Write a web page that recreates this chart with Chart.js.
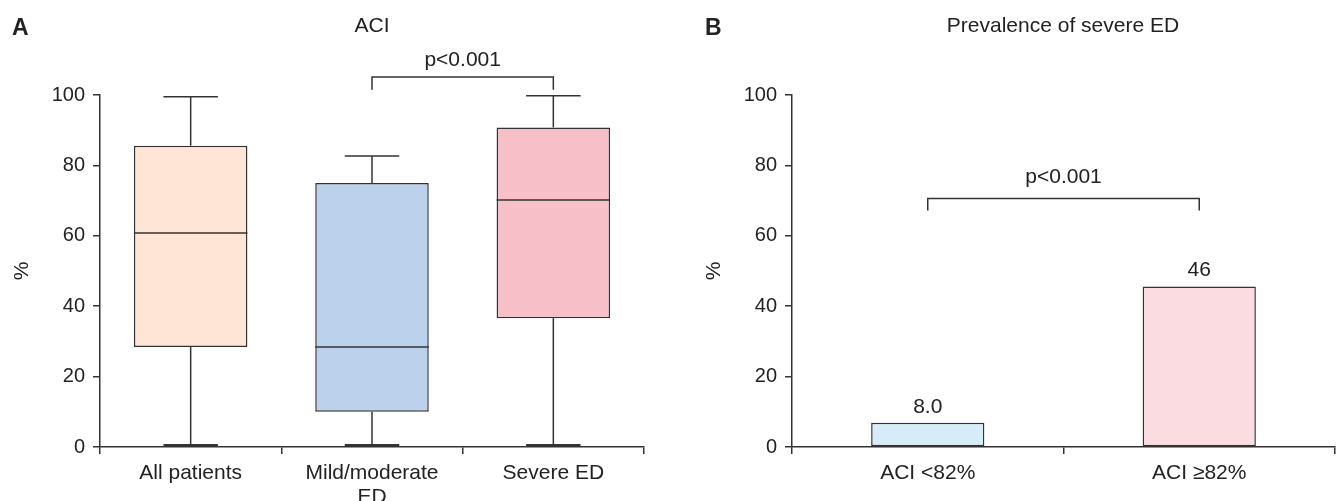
<!DOCTYPE html>
<html>
<head>
<meta charset="utf-8">
<script src="https://cdn.jsdelivr.net/npm/chart.js@4.4.1/dist/chart.umd.min.js"></script>
<style>
  body { margin: 0; background: #fff; width: 1338px; height: 501px; position: relative; overflow: hidden;
         font-family: "Liberation Sans", Arial, sans-serif; color: #222; }
  .panel { position: absolute; top: 0; height: 501px; }
  .letter { position: absolute; top: 15px; font-size: 23px; font-weight: bold; line-height: 24px; }
  .title { position: absolute; top: 13px; width: 400px; text-align: center; font-size: 21px; line-height: 24px; }
</style>
</head>
<body>
<div class="panel" style="left:0;width:680px"><canvas id="boxChart"></canvas></div>
<div class="panel" style="left:692px;width:646px"><canvas id="prevChart"></canvas></div>
<div class="letter" style="left:12px">A</div>
<div class="title" style="left:172px">ACI</div>
<div class="letter" style="left:705px">B</div>
<div class="title" style="left:863px">Prevalence of severe ED</div>

<script>
// ---- panel A: ACI box plot ----
const boxCategories = ["All patients", ["Mild/moderate", "ED"], "Severe ED"];
const boxMin = [0.5, 0.5, 0.5];
const boxQ1 = [28.4, 10.0, 36.6];
const boxMedian = [60.8, 28.4, 70.2];
const boxQ3 = [85.6, 75.0, 90.8];
const boxMax = [99.5, 82.7, 99.8];
const boxColors = ["#fee5d6", "#bbd1ec", "#f7bfc7"];
const bracketA = [1, 2, 105.1, 101.5]; // from, to, top, leg end

// ---- panel B: prevalence of severe ED ----
const prevCategories = ["ACI <82%", "ACI \u226582%"];
const prevValues = [6.9, 45.6];
const prevLabels = ["8.0", "46"];
const prevColors = ["#d6ecf9", "#fbdce0"];
const bracketB = [0, 1, 70.6, 67.2];

const yTicks = [0, 20, 40, 60, 80, 100];

const TEXT = "#222";
const AXIS = "#333";
const FAMILY = "'Liberation Sans', Arial, sans-serif";
const TICK_FONT = { family: FAMILY, size: 20 };
const LABEL_FONT = { family: FAMILY, size: 21 };

const boxWhiskers = {
  id: "boxWhiskers",
  afterDatasetsDraw(chart) {
    const { ctx, scales: { y } } = chart;
    const bars = chart.getDatasetMeta(0).data;
    const line = (x1, y1, x2, y2) => {
      ctx.beginPath();
      ctx.moveTo(x1, y1);
      ctx.lineTo(x2, y2);
      ctx.stroke();
    };
    ctx.save();
    ctx.strokeStyle = AXIS;
    ctx.lineWidth = 1.5;
    bars.forEach((bar, i) => {
      const half = bar.width / 2;
      const cap = bar.width * 0.24;
      const yMed = y.getPixelForValue(boxMedian[i]);
      const yQ1 = y.getPixelForValue(boxQ1[i]);
      const yQ3 = y.getPixelForValue(boxQ3[i]);
      const yMax = y.getPixelForValue(boxMax[i]);
      const yMin = y.getPixelForValue(boxMin[i]);
      line(bar.x - half, yMed, bar.x + half, yMed);
      line(bar.x, yQ3, bar.x, yMax);
      line(bar.x - cap, yMax, bar.x + cap, yMax);
      line(bar.x, yQ1, bar.x, yMin);
      ctx.lineWidth = 2.5;
      line(bar.x - cap, yMin, bar.x + cap, yMin);
      ctx.lineWidth = 1.5;
    });
    ctx.restore();
  },
};

const brackets = {
  id: "brackets",
  afterDraw(chart, args, opts) {
    const { ctx, scales: { x, y } } = chart;
    const [from, to, top, leg] = opts.bracket;
    const x1 = x.getPixelForValue(from);
    const x2 = x.getPixelForValue(to);
    const yTop = y.getPixelForValue(top);
    const yLeg = y.getPixelForValue(leg);
    ctx.save();
    ctx.strokeStyle = AXIS;
    ctx.lineWidth = 1.5;
    ctx.beginPath();
    ctx.moveTo(x1, yLeg);
    ctx.lineTo(x1, yTop);
    ctx.lineTo(x2, yTop);
    ctx.lineTo(x2, yLeg);
    ctx.stroke();
    ctx.fillStyle = TEXT;
    ctx.font = `${LABEL_FONT.size}px ${FAMILY}`;
    ctx.textAlign = "center";
    ctx.textBaseline = "alphabetic";
    ctx.fillText(opts.text, (x1 + x2) / 2, yTop - opts.gap);
    if (opts.valueLabels) {
      chart.getDatasetMeta(0).data.forEach((bar, i) => {
        ctx.fillText(opts.valueLabels[i], bar.x, bar.y - 10);
      });
    }
    ctx.restore();
  },
};

function yAxis(titlePad) {
  return {
    min: 0,
    max: 100,
    afterBuildTicks: (s) => { s.ticks = yTicks.map((v) => ({ value: v })); },
    ticks: { color: TEXT, font: TICK_FONT, padding: 8 },
    grid: { drawOnChartArea: false, tickLength: 7, color: AXIS, lineWidth: 1.5 },
    border: { color: AXIS, width: 1.5 },
    title: { display: true, text: "%", color: TEXT, font: LABEL_FONT, padding: { top: titlePad, bottom: 0 } },
    afterFit: (s) => { s.width = 100; },
  };
}

function xAxis() {
  return {
    type: "category",
    offset: true,
    grid: { offset: true, drawOnChartArea: false, tickLength: 7, color: AXIS, lineWidth: 1.5 },
    border: { color: AXIS, width: 1.5 },
    ticks: { color: TEXT, font: { ...LABEL_FONT, lineHeight: 1.16 }, padding: 7, maxRotation: 0, autoSkip: false },
    afterFit: (s) => { s.height = 54; },
  };
}

new Chart(document.getElementById("boxChart"), {
  type: "bar",
  data: {
    labels: boxCategories,
    datasets: [{
      data: boxQ1.map((q1, i) => [q1, boxQ3[i]]),
      backgroundColor: boxColors,
      borderColor: AXIS,
      borderWidth: 1.5,
      borderSkipped: false,
      barPercentage: 0.626,
      categoryPercentage: 1,
    }],
  },
  options: {
    responsive: true,
    maintainAspectRatio: false,
    animation: false,
    layout: { padding: { top: 95, right: 36, bottom: 0, left: 0 } },
    plugins: {
      legend: { display: false },
      tooltip: { enabled: false },
      brackets: { bracket: bracketA, text: "p<0.001", gap: 11 },
    },
    scales: { x: xAxis(), y: yAxis(10) },
  },
  plugins: [boxWhiskers, brackets],
});

new Chart(document.getElementById("prevChart"), {
  type: "bar",
  data: {
    labels: prevCategories,
    datasets: [{
      data: prevValues,
      backgroundColor: prevColors,
      borderColor: AXIS,
      borderWidth: 1.5,
      borderSkipped: false,
      barPercentage: 0.417,
      categoryPercentage: 1,
    }],
  },
  options: {
    responsive: true,
    maintainAspectRatio: false,
    animation: false,
    layout: { padding: { top: 95, right: 3, bottom: 0, left: 0 } },
    plugins: {
      legend: { display: false },
      tooltip: { enabled: false },
      brackets: { bracket: bracketB, text: "p<0.001", gap: 15, valueLabels: prevLabels },
    },
    scales: { x: xAxis(), y: yAxis(10) },
  },
  plugins: [brackets],
});
</script>
</body>
</html>
